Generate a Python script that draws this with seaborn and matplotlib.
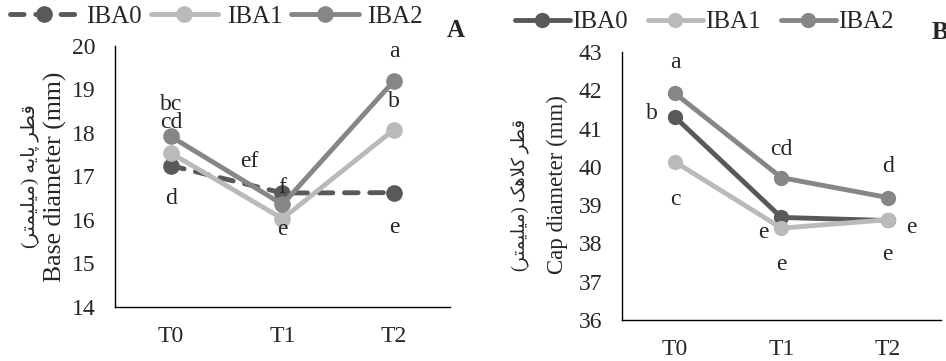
import matplotlib
matplotlib.use("Agg")
import matplotlib.pyplot as plt
import seaborn as sns

# Eixo X (tempos) e series
TIMES = ["T0", "T1", "T2"]
SERIES = ["IBA0", "IBA1", "IBA2"]

# Painel A - diametro da base (mm)
base_iba0 = [17.25, 16.62, 16.63]
base_iba1 = [17.54, 16.03, 18.08]
base_iba2 = [17.92, 16.36, 19.20]
base_letters = [["d", "f", "e"], ["cd", "e", "b"], ["bc", "ef", "a"]]

# Painel B - diametro do chapeu (mm)
cap_iba0 = [41.30, 38.68, 38.60]
cap_iba1 = [40.13, 38.40, 38.62]
cap_iba2 = [41.92, 39.72, 39.20]
cap_letters = [["b", "e", "e"], ["c", "e", "e"], ["a", "cd", "d"]]

# Rotulos (persa em formas de apresentacao, ordem visual)
ylab_fa_a = "(\uFEAE\uFE98\uFEE4\uFBFF\uFEE0\uFBFF\uFEE3) \uFEEA\uFBFE\uFE8E\uFB58 \uFEAE\uFEC4\uFED7"
ylab_fa_b = "(\uFEAE\uFE98\uFEE4\uFBFF\uFEE0\uFBFF\uFEE3) \uFB8F\uFEEB\uFEFC\uFB90 \uFEAE\uFEC4\uFED7"
ylab_en_a = "Base diameter (mm)"
ylab_en_b = "Cap diameter (mm)"

COLORS = {"IBA0": "#595959", "IBA1": "#bababa", "IBA2": "#868686"}
SERIF = ["Liberation Serif", "DejaVu Sans"]


def draw_panel(ax, values, letters, offsets, dashed_first, ylim, msize):
    for i, name in enumerate(SERIES):
        sns.lineplot(x=TIMES, y=values[i], ax=ax, color=COLORS[name],
                     linewidth=3.5, marker="o", markersize=msize,
                     markeredgewidth=0, label=name, sort=False)
        if dashed_first and i == 0:
            ln = ax.lines[-1]
            ln.set_dashes([2.8, 2.4])
            ln.set_dash_capstyle("round")
    for i in range(len(SERIES)):
        for j, t in enumerate(TIMES):
            dx, dy = offsets[i][j]
            ax.annotate(letters[i][j], (j, values[i][j]), xytext=(dx, dy),
                        textcoords="offset points", ha="center", va="center",
                        fontsize=17, family=SERIF)
    ax.set_xlim(-0.5, 2.5)
    ax.set_ylim(*ylim)
    ax.set_yticks(range(ylim[0], ylim[1] + 1))
    ax.tick_params(length=0, labelsize=17, pad=14)
    ax.tick_params(axis="x", pad=14)
    for lab in ax.get_xticklabels() + ax.get_yticklabels():
        lab.set_family(SERIF)
    for s in ["top", "right"]:
        ax.spines[s].set_visible(False)
    for s in ["left", "bottom"]:
        ax.spines[s].set_color("black")
        ax.spines[s].set_linewidth(1.0)
    ax.set_xlabel("")
    ax.set_ylabel("")
    ax.grid(False)


def main():
    sns.set_theme(style="white")
    plt.rcParams["font.family"] = SERIF
    fig = plt.figure(figsize=(9.46, 3.61), dpi=100)
    ax_a = fig.add_axes([0.1216, 0.1496, 0.354, 0.723])
    ax_b = fig.add_axes([0.6575, 0.1136, 0.337, 0.742])

    # deslocamentos das letras (pontos)
    offs_a = [[(0, -24), (0, 4), (0, -25)],
              [(0, 22), (0, -8), (0, 20)],
              [(0, 23), (-24, 31), (0, 21)]]
    draw_panel(ax_a, [base_iba0, base_iba1, base_iba2], base_letters, offs_a,
               True, (14, 20), 12)

    offs_b = [[(-17, 3), (-13, -11), (17, -5)],
              [(0, -27), (0, -26), (0, -25)],
              [(0, 22), (0, 20), (0, 22)]]
    draw_panel(ax_b, [cap_iba0, cap_iba1, cap_iba2], cap_letters, offs_b,
               False, (36, 43), 11)

    # Rotulos do eixo Y (persa em cima, ingles embaixo)
    ax_a.text(-0.179, 0.498, ylab_en_a, transform=ax_a.transAxes, rotation=90,
              ha="center", va="center", fontsize=18.5, family=SERIF)
    ax_a.text(-0.254, 0.502, ylab_fa_a, transform=ax_a.transAxes, rotation=90,
              ha="center", va="center", fontsize=14, family=SERIF)
    ax_b.text(-0.204, 0.507, ylab_en_b, transform=ax_b.transAxes, rotation=90,
              ha="center", va="center", fontsize=16.5, family=SERIF)
    ax_b.text(-0.321, 0.466, ylab_fa_b, transform=ax_b.transAxes, rotation=90,
              ha="center", va="center", fontsize=13, family=SERIF)

    # Legendas
    ax_a.legend(loc="center left", bbox_to_anchor=(0.0106, 0.953),
                bbox_transform=fig.transFigure, ncol=3, frameon=False,
                fontsize=18, handlelength=2.7, columnspacing=0.35,
                handletextpad=0.35, borderpad=0, borderaxespad=0)
    ax_b.legend(loc="center left", bbox_to_anchor=(0.544, 0.939),
                bbox_transform=fig.transFigure, ncol=3, frameon=False,
                fontsize=18, handlelength=2.2, columnspacing=0.8,
                handletextpad=0.1, borderpad=0, borderaxespad=0)

    fig.text(0.482, 0.915, "A", fontsize=18, fontweight="bold", family=SERIF,
             ha="center", va="center")
    fig.text(0.985, 0.909, "B", fontsize=18, fontweight="bold", family=SERIF,
             ha="left", va="center")

    fig.savefig("out.png", dpi=100)
    plt.close(fig)


if __name__ == "__main__":
    main()
